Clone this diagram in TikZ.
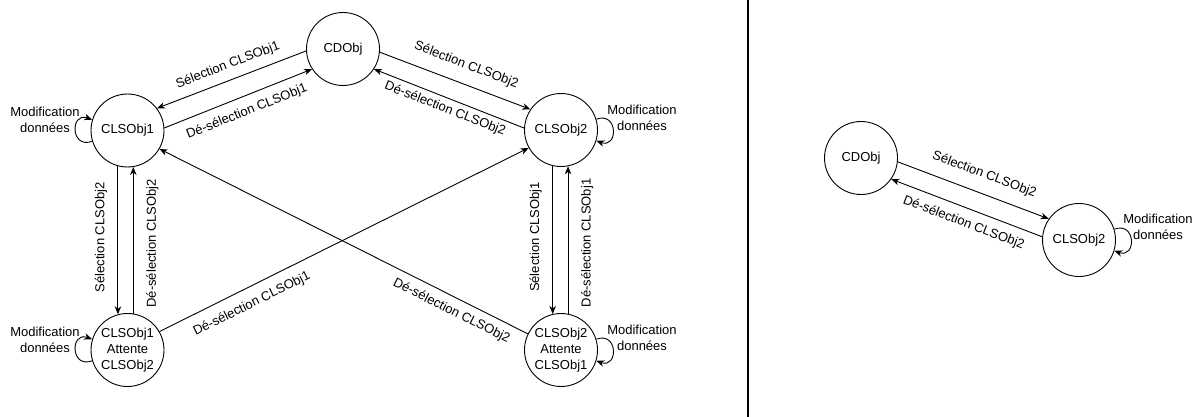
\documentclass[tikz,border=0pt]{standalone}
\usepackage{fontspec}
\setmainfont{Liberation Sans}
\usetikzlibrary{arrows.meta}
\begin{document}
\begin{tikzpicture}[x=1pt,y=-1pt,
  font=\fontsize{13}{16}\selectfont,
  state/.style={circle,draw,line width=0.9pt,minimum size=73pt,inner sep=0pt,align=center},
  trans/.style={line width=0.9pt,-{Stealth[length=8pt,width=6.5pt,inset=2.5pt]}},
  lbl/.style={sloped,inner xsep=0pt,inner ysep=#1},
  lbl/.default=8pt,
  vleft/.style={rotate=90,anchor=south,inner xsep=0pt,inner ysep=10.5pt},
  vright/.style={rotate=90,anchor=north,inner xsep=0pt,inner ysep=12.5pt},
  note/.style={align=center,inner sep=0pt}]
\useasboundingbox (0,0) rectangle (1198,417);
% states
\node[state] (cd) at (343,49) {CDObj};
\node[state] (c1) at (127.5,130.5) {CLSObj1};
\node[state] (c2) at (561,130) {CLSObj2};
\node[state] (bl) at (127.5,350) {CLSObj1\\Attente\\CLSObj2};
\node[state] (br) at (561,350) {CLSObj2\\Attente\\CLSObj1};
\node[state] (cdr) at (861,158) {CDObj};
\node[state] (c2r) at (1079,240) {CLSObj2};
% top transitions
\draw[trans] (cd.183) -- node[lbl=8pt,above,pos=0.49] (l1) {Sélection CLSObj1} (c1.37);
\draw[trans] (c1.4) -- node[lbl=9pt,below,pos=0.52] (l2) {Dé-sélection CLSObj1} (cd.213);
\draw[trans] (cd.355) -- node[lbl=12pt,above,pos=0.53] (l3) {Sélection CLSObj2} (c2.146);
\draw[trans] (c2.177) -- node[lbl=4.5pt,below,pos=0.5] (l4) {Dé-sélection CLSObj2} (cd.327);
% vertical transitions
\draw[trans] (c1.255) -- node[vleft,pos=0.48] (l5) {Sélection CLSObj2} (bl.105);
\draw[trans] (bl.81) -- node[vright,pos=0.48] (l6) {Dé-sélection CLSObj2} (c1.279);
\draw[trans] (c2.257) -- node[vleft,pos=0.48] (l7) {Sélection CLSObj1} (br.103);
\draw[trans] (br.79) -- node[vright,pos=0.48] (l8) {Dé-sélection CLSObj1} (c2.281);
% diagonals
\draw[trans] (bl.30) -- node[lbl=10pt,below,pos=0.23] (l9) {Dé-sélection CLSObj1} (c2.209);
\draw[trans] (br.154) -- node[lbl=7.5pt,below,pos=0.19] (l10) {Dé-sélection CLSObj2} (c1.330);
% self loops
\draw[trans] (c1.197) .. controls +(-22,8) and +(-22,-8) .. (c1.163);
\draw[trans] (bl.197) .. controls +(-22,8) and +(-22,-8) .. (bl.163);
\draw[trans] (c2.17) .. controls +(22,-8) and +(22,8) .. (c2.-17);
\draw[trans] (br.17) .. controls +(22,-8) and +(22,8) .. (br.-17);
\draw[trans] (c2r.17) .. controls +(22,-8) and +(22,8) .. (c2r.-17);
\node[note] (m1) at (45,120) {Modification\\données};
\node[note] (m2) at (45,340) {Modification\\données};
\node[note] (m3) at (642,118) {Modification\\données};
\node[note] (m4) at (642,338) {Modification\\données};
\node[note] (m5) at (1158,227) {Modification\\données};
% right panel
\draw[trans] (cdr.354) -- node[lbl=12pt,above,pos=0.53] (l11) {Sélection CLSObj2} (c2r.145);
\draw[trans] (c2r.175) -- node[lbl=8.5pt,below,pos=0.485] (l12) {Dé-sélection CLSObj2} (cdr.325);
% separator
\draw[line width=2.2pt] (748,0) -- (748,417);
\end{tikzpicture}
\end{document}
